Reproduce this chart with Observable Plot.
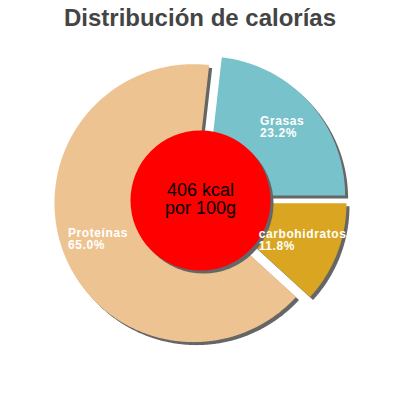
<!DOCTYPE html>
<html><head><meta charset="utf-8">
<script src="https://cdn.jsdelivr.net/npm/d3@7"></script>
<script src="https://cdn.jsdelivr.net/npm/@observablehq/plot@0.6"></script>
<style>
body{margin:0;background:#fff;font-family:"Liberation Sans",Arial,sans-serif;}
#title{width:400px;height:36px;line-height:36px;text-align:center;font-weight:bold;font-size:24px;color:#444;}
</style></head><body>
<div id="title">Distribución de calorías</div>
<div id="chart"></div>
<script>
// data
const categories = ["Proteínas", "Grasas", "carbohidratos"];
const percents = [65.0, 23.2, 11.8];
const sliceColors = ["#edc491", "#78c3cb", "#daa520"];
const centerLines = ["406 kcal", "por 100g"];

// geometry (pixels)
const W = 400, H = 364, CY = 164;
const R = 139, INNER = 70, EXPLODE = 7.5, LABEL_R = 102, SHADOW = 3, SPACING = 0.6;

const total = d3.sum(percents);
const start = Math.PI / 2 - 2 * Math.PI * (percents[0] + percents[1]) / total;
const rows = categories.map((c, i) => ({cat: c, value: percents[i]}));
const arcs = d3.pie().sort(null).value(d => d.value).startAngle(start).endAngle(start + 2 * Math.PI)(rows);

const pts = [];
const labels = [];
const ctx = document.createElement("canvas").getContext("2d");
ctx.font = "bold 12px 'Liberation Sans', Arial, sans-serif";
for (const a of arcs) {
  const mid = (a.startAngle + a.endAngle) / 2;
  const ox = EXPLODE * Math.sin(mid), oy = -EXPLODE * Math.cos(mid);
  pts.push({cat: a.data.cat, x: ox, y: oy});
  const n = Math.max(2, Math.ceil((a.endAngle - a.startAngle) / (Math.PI / 360)));
  for (let k = 0; k <= n; k++) {
    const t = a.startAngle + (a.endAngle - a.startAngle) * k / n;
    pts.push({cat: a.data.cat, x: ox + R * Math.sin(t), y: oy - R * Math.cos(t)});
  }
  const lines = [a.data.cat, a.data.value.toFixed(1) + "%"];
  const w = d3.max(lines, s => ctx.measureText(s).width + SPACING * s.length);
  labels.push({
    text: lines.join("\n"),
    x: ox + LABEL_R * Math.sin(mid) - w / 2,
    y: oy - LABEL_R * Math.cos(mid)
  });
}
const center = [{x: 0, y: 0, text: centerLines.join("\n")}];

const chart = Plot.plot({
  width: W, height: H, margin: 0,
  x: {domain: [-W / 2, W / 2], range: [0, W], axis: null},
  y: {domain: [-CY, H - CY], range: [0, H], axis: null},
  color: {domain: categories, range: sliceColors},
  style: {fontFamily: "'Liberation Sans', Arial, sans-serif", background: "#fff"},
  marks: [
    Plot.line(pts, {x: "x", y: "y", z: "cat", fill: "#666", stroke: "none", curve: "linear-closed", dx: SHADOW, dy: SHADOW}),
    Plot.line(pts, {x: "x", y: "y", z: "cat", fill: "cat", stroke: "none", curve: "linear-closed"}),
    Plot.dot(center, {x: "x", y: "y", r: INNER, fill: "#666", stroke: "none", dx: SHADOW, dy: SHADOW}),
    Plot.dot(center, {x: "x", y: "y", r: INNER, fill: "#ff0000", stroke: "none"}),
    Plot.text(center, {x: "x", y: "y", text: "text", fontSize: 18, fill: "#000", lineHeight: 1, lineAnchor: "middle", dy: -1}),
    Plot.text(labels, {x: "x", y: "y", text: "text", fontSize: 12, fontWeight: "bold", fill: "#fff", textAnchor: "start", lineAnchor: "middle", lineHeight: 1, ariaLabel: "slice-labels"})
  ]
});
d3.select(chart).selectAll("g").filter(function() { return this.getAttribute("fill") === "#fff"; })
  .selectAll("text").style("letter-spacing", SPACING + "px");
document.getElementById("chart").appendChild(chart);
</script>
</body></html>
